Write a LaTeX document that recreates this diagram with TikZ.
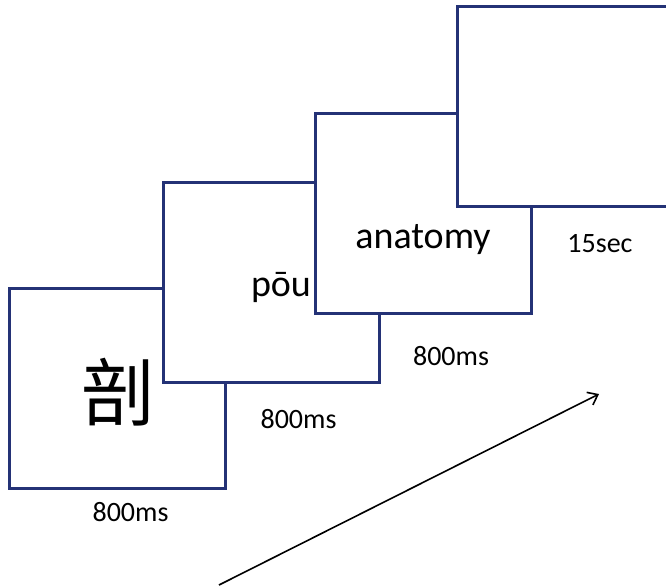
\documentclass[tikz,border=0pt]{standalone}
\usepackage{fontspec}
\setmainfont{Carlito}
\newfontfamily\cjk{Noto Sans CJK SC}
\usetikzlibrary{arrows.meta}
\definecolor{framecolor}{RGB}{36,50,118}
\tikzstyle{screen}=[draw=framecolor, line width=3pt, fill=white, minimum width=216pt, minimum height=200pt, inner sep=0]
\tikzstyle{stimulus}=[anchor=base, inner sep=0, font=\fontsize{38}{40}\selectfont]
\tikzstyle{duration}=[anchor=base, inner sep=0, font=\fontsize{28}{30}\selectfont]
\tikzstyle{time arrow}=[line width=1.6pt, -{Straight Barb[length=9pt, width=14pt, line width=1.6pt]}]

\begin{document}
\begin{tikzpicture}[x=1pt, y=-1pt]
      \useasboundingbox (0, 0) rectangle (666, 587);
      \clip (0, 0) rectangle (666, 587);

      \node[screen] (screen_char) at (117, 388.5) {};
      \node[inner sep=0, font=\cjk\fontsize{74}{76}\selectfont] (char) at (118, 392) {剖};

      \node[screen] (screen_pinyin) at (271.5, 282.5) {};
      \node[stimulus] (pinyin) at (281, 296) {pōu};

      \node[screen] (screen_word) at (423.5, 213) {};
      \node[stimulus] (word) at (423, 248) {anatomy};

      \node[screen] (screen_blank) at (565, 106) {};

      \node[duration] (dur_char) at (130.5, 521) {800ms};
      \node[duration] (dur_pinyin) at (298.5, 428) {800ms};
      \node[duration] (dur_word) at (451, 365) {800ms};
      \node[duration] (dur_blank) at (600, 252) {15sec};

      \coordinate (time_start) at (219, 585);
      \coordinate (time_end) at (599, 394);
      \draw[time arrow] (time_start) -- (time_end);
    \end{tikzpicture}
\end{document}
